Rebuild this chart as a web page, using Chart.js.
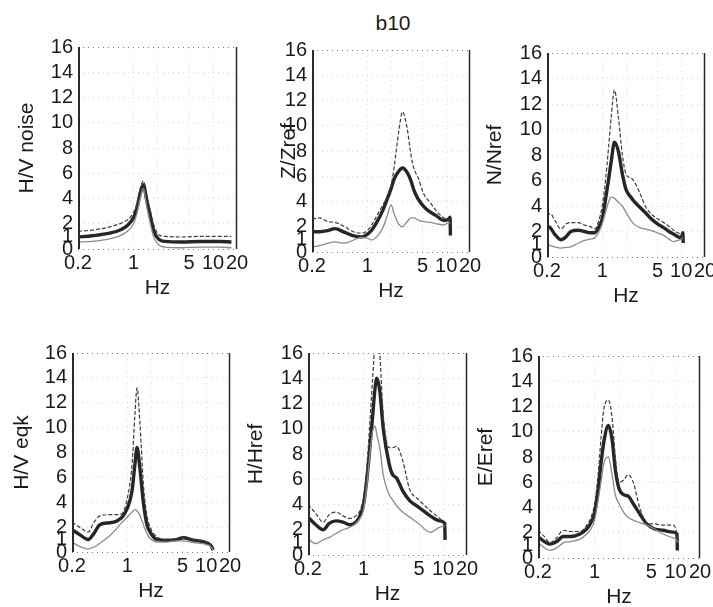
<!DOCTYPE html>
<html>
<head>
<meta charset="utf-8">
<script src="https://cdn.jsdelivr.net/npm/chart.js@4"></script>
<style>
  body { margin: 0; background: #fff; }
  #wrap { position: relative; width: 713px; height: 607px; overflow: hidden; }
  #wrap canvas { position: absolute; }
  #title { position: absolute; left: 358px; top: 11px; width: 70px; text-align: center;
           font: 21px "Liberation Sans", Arial, sans-serif; line-height: 24px; color: #1a1a1a; }
</style>
</head>
<body>
<div id="wrap">
  <div id="title">b10</div>
</div>
<script>
// shared axis ticks
const xTicks = [0.2, 1, 2, 5, 10, 20];
const xTickLabels = ["0.2", "1", "", "5", "10", "20"];
const yTicks = [0, 1, 2, 4, 6, 8, 10, 12, 14, 16];

// H/V noise
const noiseFreq  = [0.2, 0.3, 0.5, 0.7, 0.85, 1.0, 1.1, 1.2, 1.33, 1.45, 1.6, 1.8, 2.1, 2.5, 4, 7, 12, 17];
const noiseMean  = [0.95, 1.05, 1.25, 1.55, 1.9, 2.5, 3.2, 4.3, 5.1, 4.0, 2.8, 1.4, 0.75, 0.6, 0.55, 0.6, 0.6, 0.55];
const noiseUpper = [1.4, 1.5, 1.75, 2.05, 2.35, 2.9, 3.6, 4.7, 5.4, 4.4, 3.2, 1.9, 1.1, 1.0, 0.95, 1.0, 1.0, 1.0];
const noiseLower = [0.55, 0.6, 0.8, 1.1, 1.45, 2.0, 2.8, 3.9, 4.8, 3.5, 2.2, 0.9, 0.3, 0.15, 0.1, 0.15, 0.15, 0.1];

// Z/Zref
const zFreq  = [0.2, 0.25, 0.32, 0.39, 0.52, 0.7, 0.85, 1.0, 1.13, 1.36, 1.6, 1.82, 2.0, 2.2, 2.5, 2.8, 3.2, 3.6, 3.9, 4.4, 5.2, 6.3, 7.4, 9.3, 10.7, 11.2, 11.3];
const zMean  = [1.6, 1.6, 1.7, 1.85, 1.55, 1.25, 1.2, 1.4, 1.7, 2.5, 3.4, 4.3, 5.0, 5.8, 6.4, 6.65, 6.3, 5.6, 4.9, 4.2, 3.6, 3.15, 2.9, 2.5, 2.6, 2.75, 1.3];
const zUpper = [2.6, 2.7, 2.4, 2.35, 2.0, 1.55, 1.5, 1.7, 2.1, 3.0, 3.8, 4.5, 5.2, 6.8, 9.5, 11.1, 9.8, 7.6, 6.6, 5.9, 4.6, 3.9, 3.3, 2.7, 2.55, 2.6, 2.6];
const zLower = [0.4, 0.5, 0.7, 0.8, 0.7, 1.0, 1.15, 1.1, 0.95, 1.3, 2.0, 3.0, 3.75, 3.0, 2.2, 2.0, 2.4, 2.7, 2.7, 2.55, 2.4, 2.35, 2.25, 2.15, 2.3, 2.3, 2.3];

// N/Nref
const nFreq  = [0.2, 0.22, 0.25, 0.3, 0.35, 0.4, 0.5, 0.6, 0.7, 0.8, 0.9, 1.0, 1.1, 1.2, 1.3, 1.43, 1.6, 1.8, 2.0, 2.3, 2.5, 3.0, 3.5, 4.0, 5.0, 6.0, 7.0, 8.0, 9.0, 10.0, 10.5, 10.6];
const nMean  = [2.4, 2.3, 1.8, 1.35, 1.6, 2.0, 2.1, 2.0, 1.9, 1.9, 2.3, 3.0, 4.5, 6.0, 7.5, 9.0, 8.3, 6.5, 5.3, 4.7, 4.4, 3.9, 3.5, 3.1, 2.6, 2.3, 2.0, 1.8, 1.6, 1.5, 1.9, 1.1];
const nUpper = [3.2, 3.4, 2.9, 2.2, 2.6, 2.7, 2.7, 2.5, 2.4, 2.2, 2.8, 4.0, 6.0, 8.5, 11.0, 13.1, 11.0, 8.0, 6.5, 6.2, 6.0, 5.0, 4.0, 3.5, 3.0, 2.7, 2.4, 2.1, 1.9, 1.8, 1.7, 1.7];
const nLower = [1.0, 0.9, 0.8, 0.7, 0.75, 0.8, 1.1, 1.3, 1.4, 1.5, 1.9, 2.6, 3.5, 4.3, 4.7, 4.6, 4.3, 4.0, 3.5, 2.9, 2.6, 2.3, 2.2, 2.1, 1.9, 1.7, 1.4, 1.2, 1.3, 1.4, 1.5, 1.5];

// H/V eqk
const eqkFreq  = [0.2, 0.25, 0.32, 0.38, 0.45, 0.6, 0.74, 0.86, 1.0, 1.15, 1.25, 1.33, 1.46, 1.6, 1.77, 1.95, 2.4, 3.2, 4.2, 5.1, 6.9, 10.1, 11.7, 12.2];
const eqkMean  = [1.8, 1.4, 1.0, 1.5, 2.2, 2.35, 2.5, 2.8, 3.5, 4.9, 7.0, 8.4, 6.5, 4.0, 2.25, 1.6, 1.0, 0.95, 1.0, 1.15, 0.95, 0.75, 0.45, 0.15];
const eqkUpper = [2.4, 2.0, 1.6, 2.4, 2.9, 3.0, 3.0, 3.1, 4.3, 7.0, 11.0, 13.2, 10.0, 5.5, 3.0, 2.0, 1.2, 1.0, 1.05, 1.15, 1.0, 0.8, 0.5, 0.2];
const eqkLower = [0.8, 0.45, 0.25, 0.4, 0.7, 1.3, 1.9, 2.4, 2.8, 3.2, 3.4, 3.3, 2.9, 2.2, 1.5, 1.1, 0.8, 0.8, 0.9, 0.9, 0.75, 0.6, 0.4, 0.15];

// H/Href
const hFreq  = [0.2, 0.25, 0.31, 0.37, 0.45, 0.55, 0.67, 0.8, 0.9, 1.0, 1.1, 1.2, 1.3, 1.4, 1.47, 1.6, 1.77, 2.1, 2.3, 2.6, 3.1, 3.8, 4.9, 6.9, 9.1, 10.5, 10.6];
const hMean  = [3.0, 2.4, 2.0, 2.5, 2.7, 2.6, 2.4, 2.6, 3.1, 4.0, 6.0, 8.5, 11.0, 13.3, 14.0, 13.0, 10.0, 7.2, 6.4, 6.1, 5.1, 4.3, 3.8, 3.1, 2.7, 2.5, 1.2];
const hUpper = [4.0, 3.3, 2.6, 3.2, 3.4, 3.1, 2.9, 3.1, 3.5, 4.6, 7.0, 10.5, 14.0, 17.0, 18.0, 16.0, 11.0, 8.5, 8.5, 8.6, 7.5, 5.2, 4.4, 3.5, 2.9, 2.5, 2.5];
const hLower = [1.3, 0.9, 1.2, 1.4, 1.7, 2.0, 2.2, 2.5, 2.9, 3.6, 5.5, 8.0, 9.8, 10.2, 9.5, 8.5, 6.3, 4.8, 4.4, 3.9, 3.4, 3.0, 2.5, 1.8, 2.2, 2.3, 2.3];

// E/Eref
const eFreq  = [0.2, 0.24, 0.28, 0.34, 0.41, 0.5, 0.66, 0.8, 0.9, 1.0, 1.1, 1.2, 1.3, 1.48, 1.65, 1.8, 2.0, 2.3, 2.6, 3.0, 3.6, 4.4, 5.5, 7.0, 9.3, 10.4, 10.5];
const eMean  = [1.7, 1.3, 1.1, 1.3, 1.7, 1.7, 1.9, 2.3, 2.8, 3.6, 5.3, 7.5, 9.2, 10.5, 9.3, 7.0, 5.5, 5.0, 4.9, 4.3, 3.5, 2.7, 2.3, 2.2, 2.05, 1.9, 0.6];
const eUpper = [2.2, 1.7, 1.2, 1.6, 2.2, 2.1, 2.1, 2.6, 3.2, 4.3, 6.5, 9.5, 11.8, 12.5, 11.0, 8.0, 6.0, 6.2, 6.6, 6.0, 4.0, 2.8, 2.7, 2.6, 2.6, 1.8, 1.5];
const eLower = [1.2, 0.8, 0.6, 0.8, 1.2, 1.3, 1.5, 1.9, 2.3, 3.0, 4.5, 6.0, 7.5, 8.0, 6.5, 5.0, 4.3, 3.6, 3.2, 3.0, 2.8, 2.6, 2.3, 1.9, 1.6, 1.4, 1.2];

Chart.defaults.font.family = '"Liberation Sans", Arial, sans-serif';
Chart.defaults.font.size = 20;
Chart.defaults.color = "#1a1a1a";

const pts = (xs, ys) => xs.map((x, i) => ({ x: x, y: ys[i] }));
const gridColor = "#dcdcdc";
const edgeColor = "#777";
const titleFont = { size: 21 };
const titleOffset = 17;   // half line height + title padding
const xAxisHeight = 56;
const setYTicks = (s) => { s.ticks = yTicks.map((v) => ({ value: v })); };

// solid left/right frame of the plot box, drawn last
const sideFrame = {
  id: "sideFrame",
  afterDraw(chart) {
    const { ctx, chartArea: a } = chart;
    const xl = Math.round(a.left) + 1;
    const xr = Math.round(a.right) - 0.5;
    ctx.save();
    ctx.setLineDash([]);
    ctx.globalAlpha = 1;
    ctx.strokeStyle = "#2a2a2a";
    ctx.lineWidth = 2;
    ctx.beginPath();
    ctx.moveTo(xl, a.top);
    ctx.lineTo(xl, a.bottom);
    ctx.stroke();
    ctx.lineWidth = 1.5;
    ctx.beginPath();
    ctx.moveTo(xr, a.top);
    ctx.lineTo(xr, a.bottom);
    ctx.stroke();
    ctx.restore();
  },
};

// plot box (l, t, r, b) and y-title centre for each panel
function panel(box, yTitle, freq, mean, upper, lower) {
  const cLeft = box.titleX - titleOffset;
  const cTop = box.t - 14;
  const canvas = document.createElement("canvas");
  canvas.width = box.r - cLeft + 14;
  canvas.height = box.b - box.t + 14 + xAxisHeight;
  canvas.style.left = cLeft + "px";
  canvas.style.top = cTop + "px";
  document.getElementById("wrap").appendChild(canvas);

  new Chart(canvas.getContext("2d"), {
    type: "line",
    plugins: [sideFrame],
    data: {
      datasets: [
        { data: pts(freq, upper), borderColor: "#3c3c3c", borderWidth: 1.2, borderDash: [4, 2] },
        { data: pts(freq, lower), borderColor: "#8a8a8a", borderWidth: 1.3 },
        { data: pts(freq, mean), borderColor: "#262626", borderWidth: 3.4 },
      ],
    },
    options: {
      responsive: false,
      animation: false,
      devicePixelRatio: 1,
      parsing: false,
      elements: { point: { radius: 0 }, line: { cubicInterpolationMode: "monotone", fill: false } },
      layout: { padding: { top: 14, right: 14, left: 0, bottom: 0 } },
      plugins: { legend: { display: false }, tooltip: { enabled: false } },
      scales: {
        x: {
          type: "logarithmic",
          min: 0.2,
          max: 20,
          afterBuildTicks: (s) => { s.ticks = xTicks.map((v) => ({ value: v })); },
          afterFit: (s) => { s.height = xAxisHeight; },
          ticks: {
            autoSkip: false,
            maxRotation: 0,
            padding: 2,
            callback: (v) => xTickLabels[xTicks.indexOf(v)],
          },
          grid: {
            color: (c) => (c.tick && (c.tick.value === 0.2 || c.tick.value === 20) ? "rgba(0,0,0,0)" : gridColor),
            drawTicks: false,
          },
          border: { display: false, dash: [1, 5] },
          title: { display: true, text: "Hz", font: titleFont, padding: { top: 4, bottom: 4 } },
        },
        y: {
          min: 0,
          max: 16,
          afterBuildTicks: setYTicks,
          afterFit: (s) => { s.width = box.l - cLeft; },
          ticks: { autoSkip: false, padding: 5 },
          grid: {
            color: (c) => {
              const v = c.tick ? c.tick.value : null;
              if (v === 1) return "rgba(0,0,0,0)";
              return v === 0 || v === 16 ? edgeColor : gridColor;
            },
            drawTicks: false,
          },
          border: { display: false, dash: [1, 4] },
          title: { display: true, text: yTitle, font: titleFont, padding: { top: 4, bottom: 4 } },
        },
      },
    },
  });
}

panel({ l: 78, t: 44, r: 237, b: 249, titleX: 28 }, "H/V noise", noiseFreq, noiseMean, noiseUpper, noiseLower);
panel({ l: 312, t: 47, r: 470, b: 252, titleX: 290 }, "Z/Zref", zFreq, zMean, zUpper, zLower);
panel({ l: 547, t: 50, r: 705, b: 257, titleX: 496 }, "N/Nref", nFreq, nMean, nUpper, nLower);
panel({ l: 72, t: 350, r: 230, b: 552, titleX: 23 }, "H/V eqk", eqkFreq, eqkMean, eqkUpper, eqkLower);
panel({ l: 308, t: 350, r: 467, b: 555, titleX: 257 }, "H/Href", hFreq, hMean, hUpper, hLower);
panel({ l: 538, t: 353, r: 700, b: 558, titleX: 487 }, "E/Eref", eFreq, eMean, eUpper, eLower);
</script>
</body>
</html>
